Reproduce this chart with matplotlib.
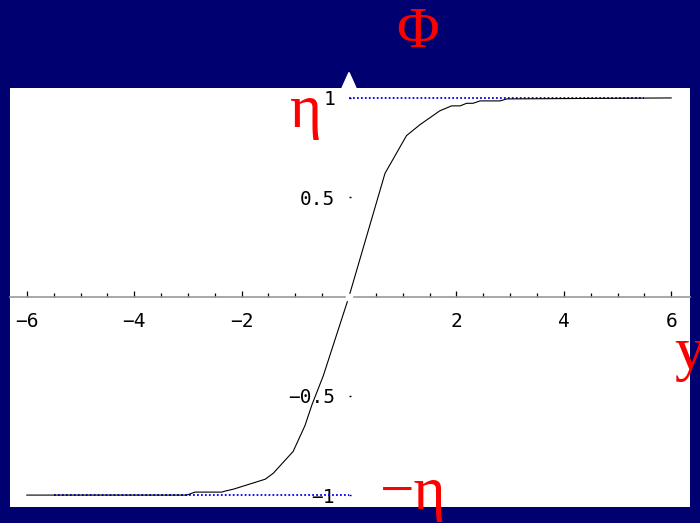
import numpy as np
import matplotlib
matplotlib.use('Agg')
import matplotlib.pyplot as plt
from matplotlib.patches import Polygon
from matplotlib.ticker import FixedLocator

ys = [-6.0, -3.02, -2.87, -2.37, -2.31, -2.15, -1.56, -1.41, -1.04, -0.82, -0.69, -0.48,
      0.0, 0.67, 1.07, 1.32, 1.69, 1.91, 2.07, 2.19, 2.31, 2.44, 2.81, 2.94, 6.0]
phi = [-1.0, -1.0, -0.985, -0.985, -0.98, -0.97, -0.92, -0.89, -0.78, -0.65, -0.545, -0.40,
       0.0, 0.62, 0.81, 0.865, 0.935, 0.96, 0.96, 0.973, 0.973, 0.985, 0.985, 0.995, 1.0]

# vacuum values +/- eta and the stretch of y they are marked over
eta = 1.0
vac_pos_y = [0.0, 5.5]
vac_neg_y = [-5.5, 0.0]

xticks_major = [-6, -4, -2, 2, 4, 6]
xticks_minor = [-5.5, -5, -4.5, -3.5, -3, -2.5, -1.5, -1, -0.5,
                0.5, 1, 1.5, 2.5, 3, 3.5, 4.5, 5, 5.5]
yticks = [-1, -0.5, 0.5, 1]
yticklabels = ['\u22121', '\u22120.5', '0.5', '1']

W, H = 700, 523
navy = '#000070'
fig = plt.figure(figsize=(W / 100, H / 100), dpi=100, facecolor=navy)

# white plotting panel
L, R, T, B = 10, 690, 88, 507
ax = fig.add_axes([L / W, 1 - B / H, (R - L) / W, (B - T) / H])
ax.set_facecolor('white')
ax.set_xlim(-6.313, 6.35)
ax.set_ylim(-1.060, 1.050)

for s in ['top', 'right']:
    ax.spines[s].set_visible(False)
ax.spines['bottom'].set_position(('data', 0))
ax.spines['bottom'].set_color('#999999')
ax.spines['bottom'].set_linewidth(1.2)
ax.spines['left'].set_position(('data', 0))
ax.spines['left'].set_visible(False)

mono = 'DejaVu Sans Mono'
ax.xaxis.set_major_locator(FixedLocator(xticks_major))
ax.xaxis.set_minor_locator(FixedLocator(xticks_minor))
ax.set_xticklabels([str(v).replace('-', '\u2212') for v in xticks_major],
                   fontfamily=mono, fontsize=14)
ax.tick_params(axis='x', which='major', direction='in', length=4, width=0.9,
               color='black', pad=11)
ax.tick_params(axis='x', which='minor', direction='in', length=2.8, width=0.9,
               color='black')

ax.set_yticks(yticks)
ax.set_yticklabels(yticklabels, fontfamily=mono, fontsize=14)
ax.tick_params(axis='y', direction='in', length=1.5, width=1.0, color='black', pad=10)

# curve and vacuum lines
ax.plot(ys, phi, color='black', lw=0.8, zorder=3)
ax.plot(vac_pos_y, [eta, eta], color='#0000ff', lw=1.3, ls=(0, (1, 1.2)), zorder=2)
ax.plot(vac_neg_y, [-eta, -eta], color='#0000ff', lw=1.3, ls=(0, (1, 1.2)), zorder=2)

# small gap where the axes cross
ax.plot([0], [0], marker='s', ms=5, color='white', mec='white', zorder=4, clip_on=False)

# arrowhead of the Phi axis, sticking out above the panel
ax.add_patch(Polygon([[-0.13, 1.05], [0.13, 1.05], [0.0, 1.128]], closed=True,
                     facecolor='white', edgecolor='white', clip_on=False, zorder=5))

serif = 'Liberation Serif'
red = '#ff0000'


def ftext(px, py, s, size):
    fig.text(px / W, 1 - py / H, s, color=red, fontsize=size, fontfamily=serif,
             ha='center', va='center')


ftext(418, 33, '\u03a6', 42)
ftext(305, 112, '\u03b7', 44)
ftext(413, 494, '\u2212\u03b7', 44)
ftext(690, 354, 'y', 44)

fig.savefig('out.png', dpi=100, facecolor=navy)
